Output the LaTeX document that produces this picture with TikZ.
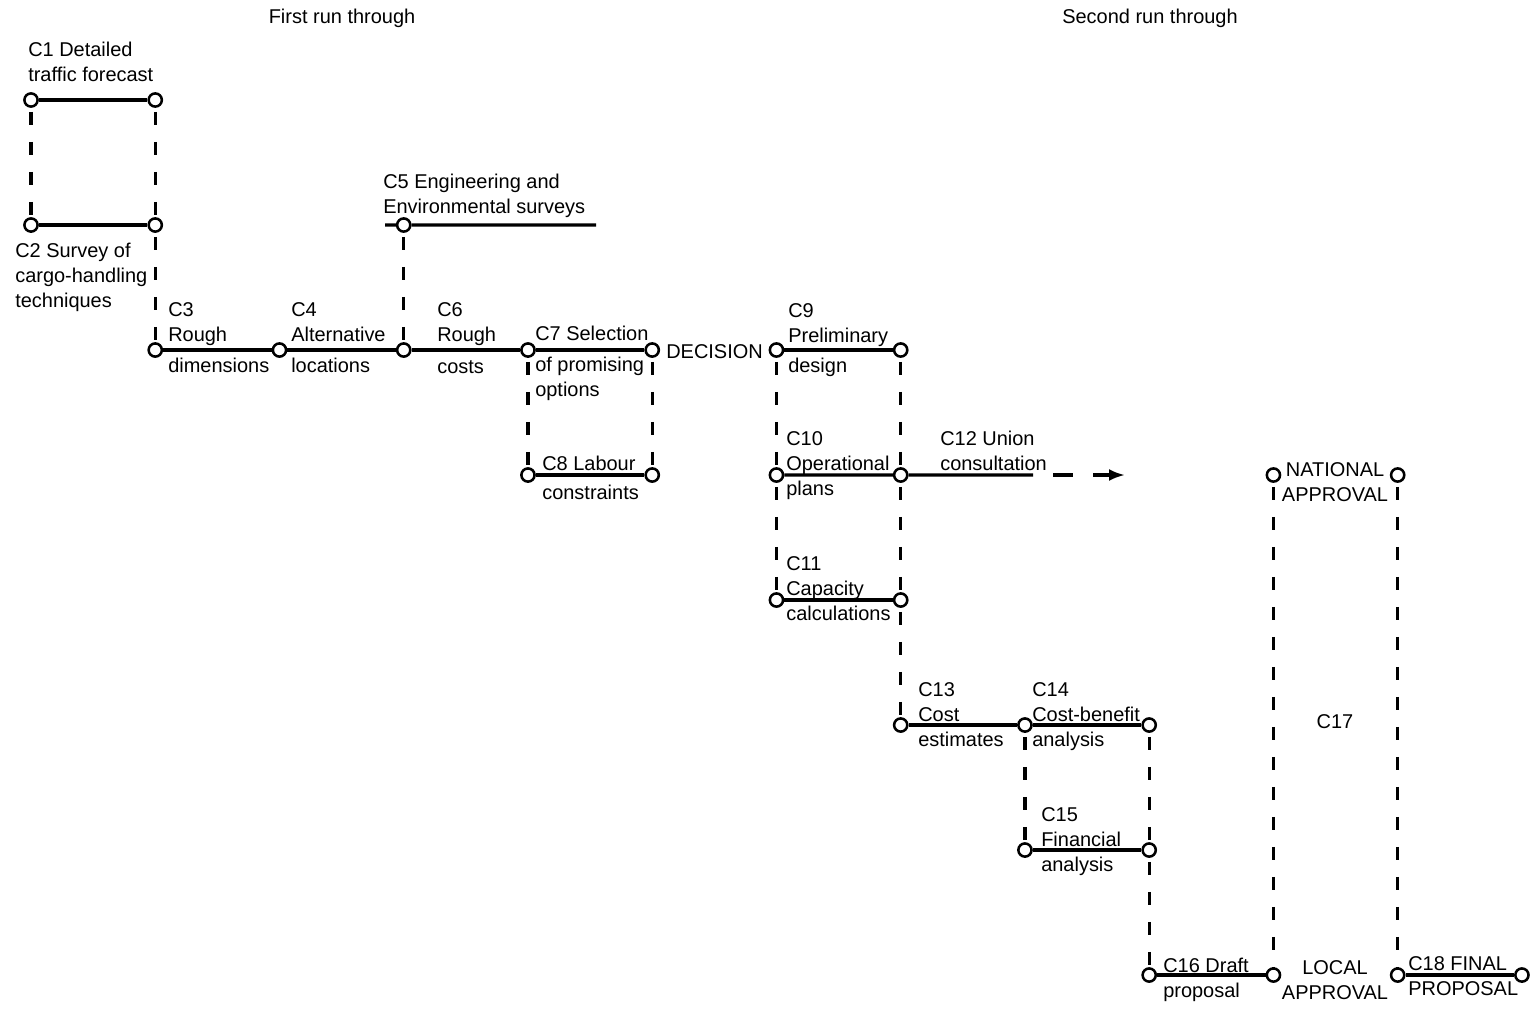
\documentclass[tikz,border=0pt]{standalone}
\usepackage{fontspec}
\setmainfont{Liberation Sans}
\usepackage{tikz}
\usetikzlibrary{positioning,arrows.meta}

\begin{document}
\begin{tikzpicture}[x=0.25mm, y=-0.25mm, node distance=31.25mm and 31.06mm,
		font=\fontsize{14.2pt}{17.8pt}\selectfont]
				% Define styles for events, links and labels
				\tikzset{
					event/.style={
						circle,
						draw,
						fill=white,
						line width=1.8pt,
						inner sep=0pt,
						minimum size=3.3mm,
						on grid
					},
					link/.style={
						line width=2.2pt
					},
					waitlink/.style={
						line width=2.2pt,
						dash pattern=on 3.25mm off 4.25mm,
						dash phase=-1mm
					},
					tag/.style={
						inner sep=0pt,
						align=left,
						anchor=north west
					},
					midtag/.style={
						inner sep=0pt,
						align=center
					}
				}
				\useasboundingbox (0,0) rectangle (1536,1008);
				
				% Headings
				\node[midtag] (firstRun) at (342,18) {First run through};
				\node[midtag] (secondRun) at (1150,18) {Second run through};
				
				% Events for the first run through
				\node[event] (c1L) at (31,100) {};
				\node[event, right=of c1L] (c1R) {};
				\node[event, below=of c1L] (c2L) {};
				\node[event, below=of c1R] (c2R) {};
				\node[event, below=of c2R] (c3Start) {};
				\node[event, right=of c3Start] (c4Start) {};
				\node[event, right=of c4Start] (c6Start) {};
				\node[event, above=of c6Start] (c5Top) {};
				\node[event, right=of c6Start] (c7L) {};
				\node[event, right=of c7L] (c7R) {};
				\node[event, below=of c7L] (c8L) {};
				\node[event, below=of c7R] (c8R) {};
				\coordinate (c5West) at (385,225);
				\coordinate (c5East) at (596,225);
				
				% Events for the second run through
				\node[event, right=of c7R] (c9L) {};
				\node[event, right=of c9L] (c9R) {};
				\node[event, below=of c9L] (c10L) {};
				\node[event, below=of c9R] (c10R) {};
				\node[event, below=of c10L] (c11L) {};
				\node[event, below=of c10R] (c11R) {};
				\node[event, below=of c11R] (c13Start) {};
				\node[event, right=of c13Start] (c14L) {};
				\node[event, right=of c14L] (c14R) {};
				\node[event, below=of c14L] (c15L) {};
				\node[event, below=of c14R] (c15R) {};
				\node[event, below=of c15R] (c16L) {};
				\node[event, right=of c16L] (c16R) {};
				\node[event, right=of c16R] (c18L) {};
				\node[event, right=of c18L] (c18R) {};
				\node[event, above=125mm of c16R] (natL) {};
				\node[event, above=125mm of c18L] (natR) {};
				\coordinate (c12Solid) at (1033,475);
				\coordinate (c12Tip) at (1125,475);
				
				% Solid activity lines
				\draw[link] (c1L) -- (c1R);
				\draw[link] (c2L) -- (c2R);
				\draw[link] (c5West) -- (c5Top) -- (c5East);
				\draw[link] (c3Start) -- (c4Start) -- (c6Start) -- (c7L) -- (c7R);
				\draw[link] (c8L) -- (c8R);
				\draw[link] (c9L) -- (c9R);
				\draw[link] (c10L) -- (c10R) -- (c12Solid);
				\draw[link] (c11L) -- (c11R);
				\draw[link] (c13Start) -- (c14L) -- (c14R);
				\draw[link] (c15L) -- (c15R);
				\draw[link] (c16L) -- (c16R);
				\draw[link] (c18L) -- (c18R);
				\draw[link, dash pattern=on 5mm off 5mm, dash phase=5mm, -{Latex[length=4mm, width=3mm]}] (c12Solid) -- (c12Tip);
				
				% Dashed waiting lines
				\draw[waitlink] (c1L) -- (c2L);
				\draw[waitlink] (c1R) -- (c2R);
				\draw[waitlink] (c2R) -- (c3Start);
				\draw[waitlink] (c5Top) -- (c6Start);
				\draw[waitlink] (c7L) -- (c8L);
				\draw[waitlink] (c7R) -- (c8R);
				\draw[waitlink] (c9L) -- (c10L);
				\draw[waitlink] (c10L) -- (c11L);
				\draw[waitlink] (c9R) -- (c10R);
				\draw[waitlink] (c10R) -- (c11R);
				\draw[waitlink] (c11R) -- (c13Start);
				\draw[waitlink] (c14L) -- (c15L);
				\draw[waitlink] (c14R) -- (c15R);
				\draw[waitlink] (c15R) -- (c16L);
				\draw[waitlink] (natL) -- (c16R);
				\draw[waitlink] (natR) -- (c18L);
				
				% Labels
				\node[tag] (c1Text) at (28,42) {C1 Detailed\\traffic forecast};
				\node[tag] (c2Text) at (15,243) {C2 Survey of\\cargo-handling\\techniques};
				\node[tag] (c3Text) at (168,302) {C3\\Rough};
				\node[tag] (c3Below) at (168,358) {dimensions};
				\node[tag] (c4Text) at (291,302) {C4\\Alternative};
				\node[tag] (c4Below) at (291,358) {locations};
				\node[tag] (c5Text) at (383,174) {C5 Engineering and\\Environmental surveys};
				\node[tag] (c6Text) at (437,302) {C6\\Rough};
				\node[tag] (c6Below) at (437,360) {costs};
				\node[tag] (c7Text) at (535,326) {C7 Selection};
				\node[tag] (c7Below) at (535,357) {of promising\\options};
				\node[tag] (decisionText) at (666,344) {DECISION};
				\node[tag] (c8Text) at (542,456) {C8 Labour};
				\node[tag] (c8Below) at (542,485) {constraints};
				\node[tag] (c9Text) at (788,303) {C9\\Preliminary};
				\node[tag] (c9Below) at (788,358) {design};
				\node[tag] (c10Text) at (786,431) {C10\\Operational\\plans};
				\node[tag] (c11Text) at (786,556) {C11\\Capacity\\calculations};
				\node[tag] (c12Text) at (940,431) {C12 Union\\consultation};
				\node[tag] (c13Text) at (918,682) {C13\\Cost\\estimates};
				\node[tag] (c14Text) at (1032,682) {C14\\Cost-benefit\\analysis};
				\node[tag] (c15Text) at (1041,807) {C15\\Financial\\analysis};
				\node[tag] (c16Text) at (1163,958) {C16 Draft\\proposal};
				\node[tag] (c18Text) at (1408,956) {C18 FINAL\\PROPOSAL};
				\node[midtag, anchor=north] (localText) at (1335,960) {LOCAL\\APPROVAL};
				\node[midtag, anchor=north] (nationalText) at (1335,462) {NATIONAL\\APPROVAL};
				\node[midtag] (c17Text) at (1335,722) {C17};
			\end{tikzpicture}
\end{document}
